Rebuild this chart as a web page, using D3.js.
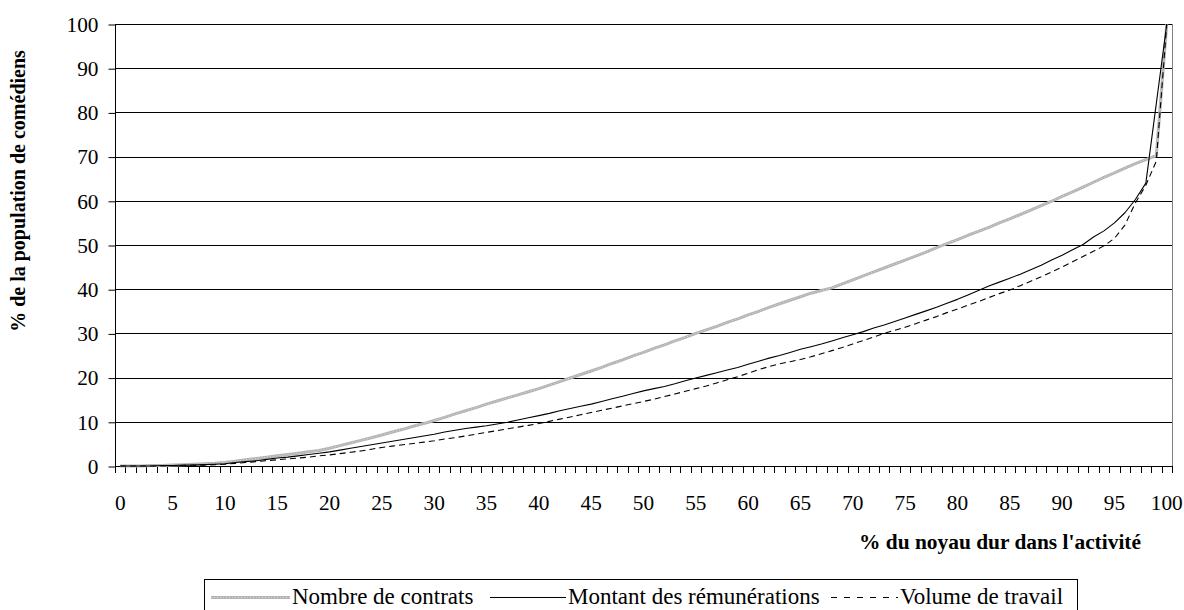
<!DOCTYPE html>
<html>
<head>
<meta charset="utf-8">
<script src="https://cdn.jsdelivr.net/npm/d3@7"></script>
</head>
<body style="margin:0">
<svg id="chart" width="1184" height="610"></svg>
<script>
const FONT = "Liberation Serif";

const categories = d3.range(0, 101); // 0..100 (% du noyau dur)
const xTickLabels = [0,5,10,15,20,25,30,35,40,45,50,55,60,65,70,75,80,85,90,95,100];
const yTicks = [0,10,20,30,40,50,60,70,80,90,100];

const seriesNames = ["Nombre de contrats", "Montant des rémunérations", "Volume de travail"];

const nombreContrats = [
 0,0,0,0.1,0.1,0.2,0.3,0.4,0.5,0.6,
 0.8,1.1,1.4,1.7,2.0,2.3,2.6,2.9,3.2,3.5,
 4.0,4.6,5.2,5.8,6.4,7.0,7.7,8.3,9.0,9.6,
 10.3,11.0,11.8,12.5,13.2,14.0,14.7,15.4,16.1,16.8,
 17.5,18.3,19.1,19.9,20.7,21.5,22.3,23.2,24.0,24.9,
 25.7,26.6,27.4,28.3,29.1,30.0,30.8,31.6,32.5,33.3,
 34.2,35.0,35.9,36.7,37.5,38.3,39.1,39.7,40.3,41.2,
 42.1,43.0,43.9,44.8,45.7,46.6,47.5,48.4,49.4,50.3,
 51.2,52.2,53.1,54.0,55.0,55.9,56.9,57.9,58.9,59.9,
 61.0,62.0,63.1,64.2,65.3,66.3,67.4,68.4,69.3,70.2,
 100
];

const montantRemunerations = [
 0,0,0,0,0.1,0.1,0.2,0.2,0.3,0.4,
 0.5,0.8,1.0,1.2,1.5,1.8,2.0,2.3,2.6,2.9,
 3.2,3.6,4.0,4.4,4.8,5.2,5.6,6.0,6.4,6.8,
 7.2,7.7,8.1,8.5,8.8,9.1,9.5,9.9,10.4,10.9,
 11.4,11.9,12.5,13.0,13.5,14.0,14.6,15.2,15.8,16.4,
 17.0,17.5,18.0,18.6,19.3,19.9,20.5,21.1,21.7,22.3,
 23.0,23.7,24.4,25.0,25.7,26.4,27.0,27.6,28.3,29.0,
 29.7,30.4,31.2,31.9,32.7,33.5,34.3,35.1,35.9,36.8,
 37.7,38.7,39.7,40.7,41.6,42.5,43.4,44.4,45.4,46.6,
 47.7,48.9,50.1,51.8,53.2,55.0,57.3,60.3,64.0,82.0,
 100
];

const volumeTravail = [
 0,0,0,0,0,0.1,0.1,0.2,0.2,0.3,
 0.4,0.6,0.8,1.0,1.2,1.4,1.6,1.8,2.0,2.3,
 2.5,2.8,3.1,3.4,3.8,4.2,4.5,4.8,5.1,5.4,
 5.7,6.1,6.4,6.8,7.2,7.6,8.0,8.4,8.8,9.2,
 9.6,10.1,10.6,11.1,11.6,12.1,12.6,13.1,13.6,14.1,
 14.6,15.1,15.7,16.3,16.9,17.5,18.1,18.8,19.5,20.2,
 21.0,21.8,22.5,23.1,23.6,24.1,24.7,25.4,26.1,26.8,
 27.6,28.4,29.2,30.0,30.7,31.4,32.2,33.0,33.8,34.7,
 35.5,36.4,37.2,38.1,39.0,39.8,40.8,41.8,42.8,43.9,
 45.0,46.2,47.4,48.6,49.8,51.5,54.5,59.5,63.5,69.0,
 100
];

const seriesData = [nombreContrats, montantRemunerations, volumeTravail];
const seriesStyles = [
  {stroke: "#b4b4b4", width: 3, dash: null, legendDash: null},
  {stroke: "#000", width: 1.1, dash: null, legendDash: null},
  {stroke: "#000", width: 1.1, dash: "6,4", legendDash: "6,7"}
];

const svg = d3.select("#chart");
const plot = {left: 115, right: 1172, top: 24, bottom: 466};

const x = d3.scaleBand().domain(categories).range([plot.left, plot.right]).paddingInner(0).paddingOuter(0);
const y = d3.scaleLinear().domain([0, 100]).range([plot.bottom, plot.top]);

function serif(sel, size, bold) {
  sel.style("font-family", FONT).style("font-size", size + "px");
  if (bold) sel.style("font-weight", "bold");
  return sel;
}

// gridlines
svg.append("g").selectAll("line").data(yTicks.filter(d => d > 0)).join("line")
  .attr("x1", plot.left).attr("x2", plot.right)
  .attr("y1", d => Math.round(y(d)) + 0.5).attr("y2", d => Math.round(y(d)) + 0.5)
  .attr("stroke", "#000").attr("stroke-width", 1);

// right plot border
svg.append("line")
  .attr("x1", plot.right + 0.5).attr("x2", plot.right + 0.5)
  .attr("y1", plot.top).attr("y2", plot.bottom)
  .attr("stroke", "#808080").attr("stroke-width", 1);

// Y axis
const yAxis = d3.axisLeft(y).tickValues(yTicks).tickSize(7).tickPadding(10).tickFormat(d3.format("d"));
const gy = svg.append("g").attr("transform", `translate(${plot.left + 0.5},0.5)`).call(yAxis);
gy.attr("font-family", null).attr("font-size", null);
gy.select(".domain").attr("stroke", "#000").attr("d", `M0,${plot.top}V${plot.bottom}`);
gy.selectAll(".tick line").attr("stroke", "#000");
serif(gy.selectAll(".tick text").attr("fill", "#000"), 21.3);

// X axis: ticks at band boundaries
const boundaries = categories.map(c => x(c)).concat([plot.right]);
svg.append("g").selectAll("line").data(boundaries).join("line")
  .attr("x1", d => Math.round(d) + 0.5).attr("x2", d => Math.round(d) + 0.5)
  .attr("y1", plot.bottom).attr("y2", plot.bottom + 7)
  .attr("stroke", "#000");
svg.append("line")
  .attr("x1", plot.left).attr("x2", plot.right + 1)
  .attr("y1", plot.bottom + 0.5).attr("y2", plot.bottom + 0.5)
  .attr("stroke", "#000");
serif(svg.append("g").selectAll("text").data(xTickLabels).join("text")
  .attr("x", d => x(d) + x.bandwidth() / 2)
  .attr("y", 510)
  .attr("text-anchor", "middle")
  .text(d => d), 21.3);

// lines
const line = d3.line()
  .x((d, i) => x(categories[i]) + x.bandwidth() / 2)
  .y(d => y(d));

seriesData.forEach((data, k) => {
  const st = seriesStyles[k];
  const p = svg.append("path").datum(data)
    .attr("d", line)
    .attr("fill", "none")
    .attr("stroke", st.stroke)
    .attr("stroke-width", st.width)
    .attr("stroke-linejoin", "round");
  if (st.dash) p.attr("stroke-dasharray", st.dash);
  if (k === 0) {
    svg.append("path").datum(data)
      .attr("d", line).attr("fill", "none")
      .attr("stroke", "#dcdcdc").attr("stroke-width", 1)
      .attr("stroke-dasharray", "1,2");
  }
});

// axis titles
serif(svg.append("text")
  .attr("x", 1000).attr("y", 549)
  .attr("text-anchor", "middle")
  .text("% du noyau dur dans l'activité"), 21.4, true);

serif(svg.append("text")
  .attr("transform", "translate(25,191) rotate(-90)")
  .attr("text-anchor", "middle")
  .text("% de la population de comédiens"), 20, true);

// legend
const legend = svg.append("g");
legend.append("rect")
  .attr("x", 204.5).attr("y", 579.5).attr("width", 873).attr("height", 40)
  .attr("fill", "#fff").attr("stroke", "#000").attr("stroke-width", 1);

const legendItems = [
  {sx1: 211, sx2: 290, tx: 292},
  {sx1: 490, sx2: 566, tx: 568},
  {sx1: 831, sx2: 898, tx: 900}
];
legendItems.forEach((it, k) => {
  const st = seriesStyles[k];
  const l = legend.append("line")
    .attr("x1", it.sx1).attr("x2", it.sx2)
    .attr("y1", 597.5).attr("y2", 597.5)
    .attr("stroke", st.stroke).attr("stroke-width", st.width);
  if (st.legendDash) l.attr("stroke-dasharray", st.legendDash);
  if (k === 0) {
    legend.append("line")
      .attr("x1", it.sx1).attr("x2", it.sx2)
      .attr("y1", 597.5).attr("y2", 597.5)
      .attr("stroke", "#dcdcdc").attr("stroke-width", 1).attr("stroke-dasharray", "1,2");
  }
  serif(legend.append("text")
    .attr("x", it.tx).attr("y", 604)
    .text(seriesNames[k]), 23);
});
</script>
</body>
</html>
